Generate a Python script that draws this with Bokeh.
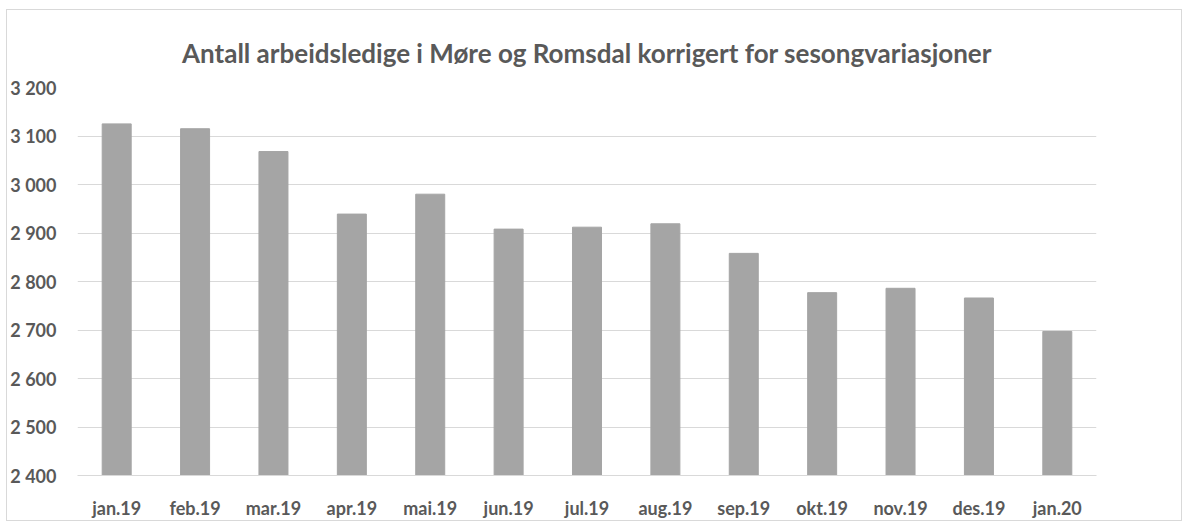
from bokeh.plotting import figure
from bokeh.models import ColumnDataSource, FixedTicker, FactorRange, Range1d
from bokeh.embed import file_html
from bokeh.resources import INLINE

months = ["jan.19", "feb.19", "mar.19", "apr.19", "mai.19", "jun.19", "jul.19",
          "aug.19", "sep.19", "okt.19", "nov.19", "des.19", "jan.20"]
values = [3125, 3115, 3068, 2939, 2980, 2908, 2912, 2919, 2858, 2777, 2786, 2766, 2697]
y_ticks = [2400, 2500, 2600, 2700, 2800, 2900, 3000, 3100, 3200]
y_tick_labels = ["2 400", "2 500", "2 600", "2 700", "2 800", "2 900", "3 000", "3 100", "3 200"]
title_text = "Antall arbeidsledige i Møre og Romsdal korrigert for sesongvariasjoner"

TEXT = "#595959"
FONT = "Lato"

src = ColumnDataSource(dict(m=months, v=values))

p = figure(width=1176, height=512, x_range=FactorRange(*months, range_padding=0),
           y_range=Range1d(2400, 3200), output_backend="svg", toolbar_location=None,
           min_border_left=68, min_border_right=87, min_border_top=77, min_border_bottom=47)
p.margin = (9, 0, 0, 6)

p.vbar(x="m", top="v", bottom=2400, width=0.37, source=src, color="#a5a5a5")

p.title.text = title_text
p.title.align = "center"
p.title.offset = -28
p.title.text_font = FONT
p.title.text_font_size = "26px"
p.title.text_font_style = "bold"
p.title.text_color = TEXT
p.title.standoff = 38

p.outline_line_color = None
p.xgrid.grid_line_color = None
p.ygrid.grid_line_color = "#d9d9d9"
p.ygrid.grid_line_width = 1

p.yaxis.ticker = FixedTicker(ticks=y_ticks)
p.yaxis.major_label_overrides = {t: l for t, l in zip(y_ticks, y_tick_labels)}
for ax in (p.xaxis, p.yaxis):
    ax.axis_line_color = None
    ax.major_tick_line_color = None
    ax.minor_tick_line_color = None
    ax.major_label_text_font = FONT
    ax.major_label_text_font_size = "18px"
    ax.major_label_text_font_style = "bold"
    ax.major_label_text_color = TEXT
p.xaxis.axis_line_color = "#d9d9d9"
p.xaxis.major_label_standoff = 15
p.yaxis.major_label_standoff = 15

p.styles = {"border": "1px solid #d9d9d9"}

open("out.html", "w").write(file_html(p, INLINE))
